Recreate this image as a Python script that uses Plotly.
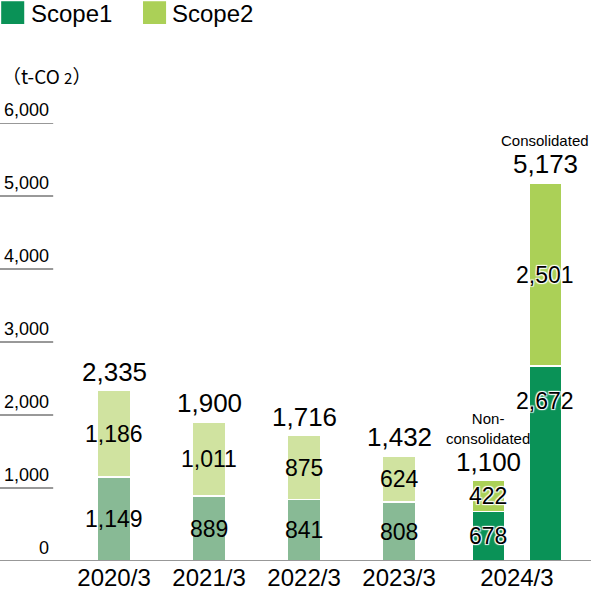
import plotly.graph_objects as go

# data
years = ["2020/3", "2021/3", "2022/3", "2023/3", "2024/3", "2024/3"]
scope1 = [1149, 889, 841, 808, 678, 2672]
scope2 = [1186, 1011, 875, 624, 422, 2501]
totals = [2335, 1900, 1716, 1432, 1100, 5173]
bar_notes = ["", "", "", "", "Non-<br>consolidated", "Consolidated"]
y_ticks = [0, 1000, 2000, 3000, 4000, 5000, 6000]
x_labels = ["2020/3", "2021/3", "2022/3", "2023/3", "2024/3"]

# layout helpers
x_pos = [0, 1, 2, 3, 3.94, 4.54]
x_label_pos = [0, 1, 2, 3, 4.24]
bar_w = 0.35
c1 = ["#88ba95"] * 4 + ["#0a9257"] * 2
c2 = ["#d0e3a0"] * 4 + ["#abd057"] * 2

REG = "Liberation Sans, Arial, sans-serif"

fig = go.Figure()
fig.add_trace(go.Bar(x=x_pos, y=scope1, width=bar_w, name="Scope1",
                     marker=dict(color=c1, line=dict(color="white", width=1.5)),
                     hoverinfo="skip"))
fig.add_trace(go.Bar(x=x_pos, y=scope2, width=bar_w, name="Scope2",
                     marker=dict(color=c2, line=dict(color="white", width=1.5)),
                     hoverinfo="skip"))

halo = "1px 1px 1px white, -1px -1px 1px white, 1px -1px 1px white, -1px 1px 1px white"

for i, x in enumerate(x_pos):
    s1, s2, tot = scope1[i], scope2[i], totals[i]
    sh = halo if i >= 4 else "none"
    # scope1 label
    if i == 5:
        fig.add_annotation(x=x, y=s1, text=f"{s1:,}", showarrow=False, yanchor="top", yshift=-20,
                           font=dict(family=REG, size=23, color="black", shadow=sh))
    else:
        fig.add_annotation(x=x, y=s1 / 2, text=f"{s1:,}", showarrow=False,
                           font=dict(family=REG, size=23, color="black", shadow=sh))
    # scope2 label
    fig.add_annotation(x=x, y=s1 + s2 / 2, text=f"{s2:,}", showarrow=False,
                       font=dict(family=REG, size=23, color="black", shadow=sh))
    # total
    fig.add_annotation(x=x, y=tot, text=f"{tot:,}", showarrow=False, yanchor="bottom", yshift=2,
                       font=dict(family=REG, size=26, color="black"))
    if bar_notes[i]:
        fig.add_annotation(x=x, y=tot, text=bar_notes[i], showarrow=False, yanchor="bottom",
                           yshift=32, font=dict(family=REG, size=15, color="black"))

# y axis labels with short rules
for t in y_ticks:
    if t > 0:
        fig.add_shape(type="line", xref="paper", yref="y", x0=0, x1=0.09, y0=t, y1=t,
                      line=dict(color="#333333", width=1))
    fig.add_annotation(xref="paper", yref="y", x=0.086, y=t, text=f"{t:,}", showarrow=False,
                       xanchor="right", yanchor="bottom", yshift=1,
                       font=dict(family=REG, size=18, color="black"))

# baseline
fig.add_shape(type="line", xref="paper", yref="y", x0=0, x1=1, y0=0, y1=0,
              line=dict(color="#333333", width=1.2))

# unit
fig.add_annotation(xref="paper", yref="paper", x=0, y=1.073,
                   text="（t-CO <span style='font-size:15px'>2</span>）",
                   showarrow=False, xanchor="left", yanchor="bottom",
                   font=dict(family="Noto Sans CJK JP, " + REG, size=19, color="black"))

# legend
for k, (lbl, col) in enumerate([("Scope1", "#0a9257"), ("Scope2", "#abd057")]):
    x0 = 0.002 + k * 0.24
    fig.add_shape(type="rect", xref="paper", yref="paper", x0=x0, x1=x0 + 0.039,
                  y0=1.226, y1=1.278, fillcolor=col, line=dict(width=0))
    fig.add_annotation(xref="paper", yref="paper", x=x0 + 0.048, y=1.250, text=lbl,
                       showarrow=False, xanchor="left", yanchor="middle", borderpad=0,
                       font=dict(family=REG, size=24, color="black"))

fig.update_layout(
    width=591, height=591,
    margin=dict(l=0, r=0, t=123, b=30),
    paper_bgcolor="white", plot_bgcolor="white",
    barmode="stack", showlegend=False,
    xaxis=dict(range=[-1.2, 5.02], tickvals=x_label_pos, ticktext=x_labels,
               showgrid=False, zeroline=False, showline=False, ticks="",
               tickfont=dict(family=REG, size=24, color="black")),
    yaxis=dict(range=[0, 6000], showgrid=False, zeroline=False, showline=False,
               showticklabels=False),
)

fig.write_html("out.html", config={"displayModeBar": False},
               post_script="document.body.style.margin='0';")
